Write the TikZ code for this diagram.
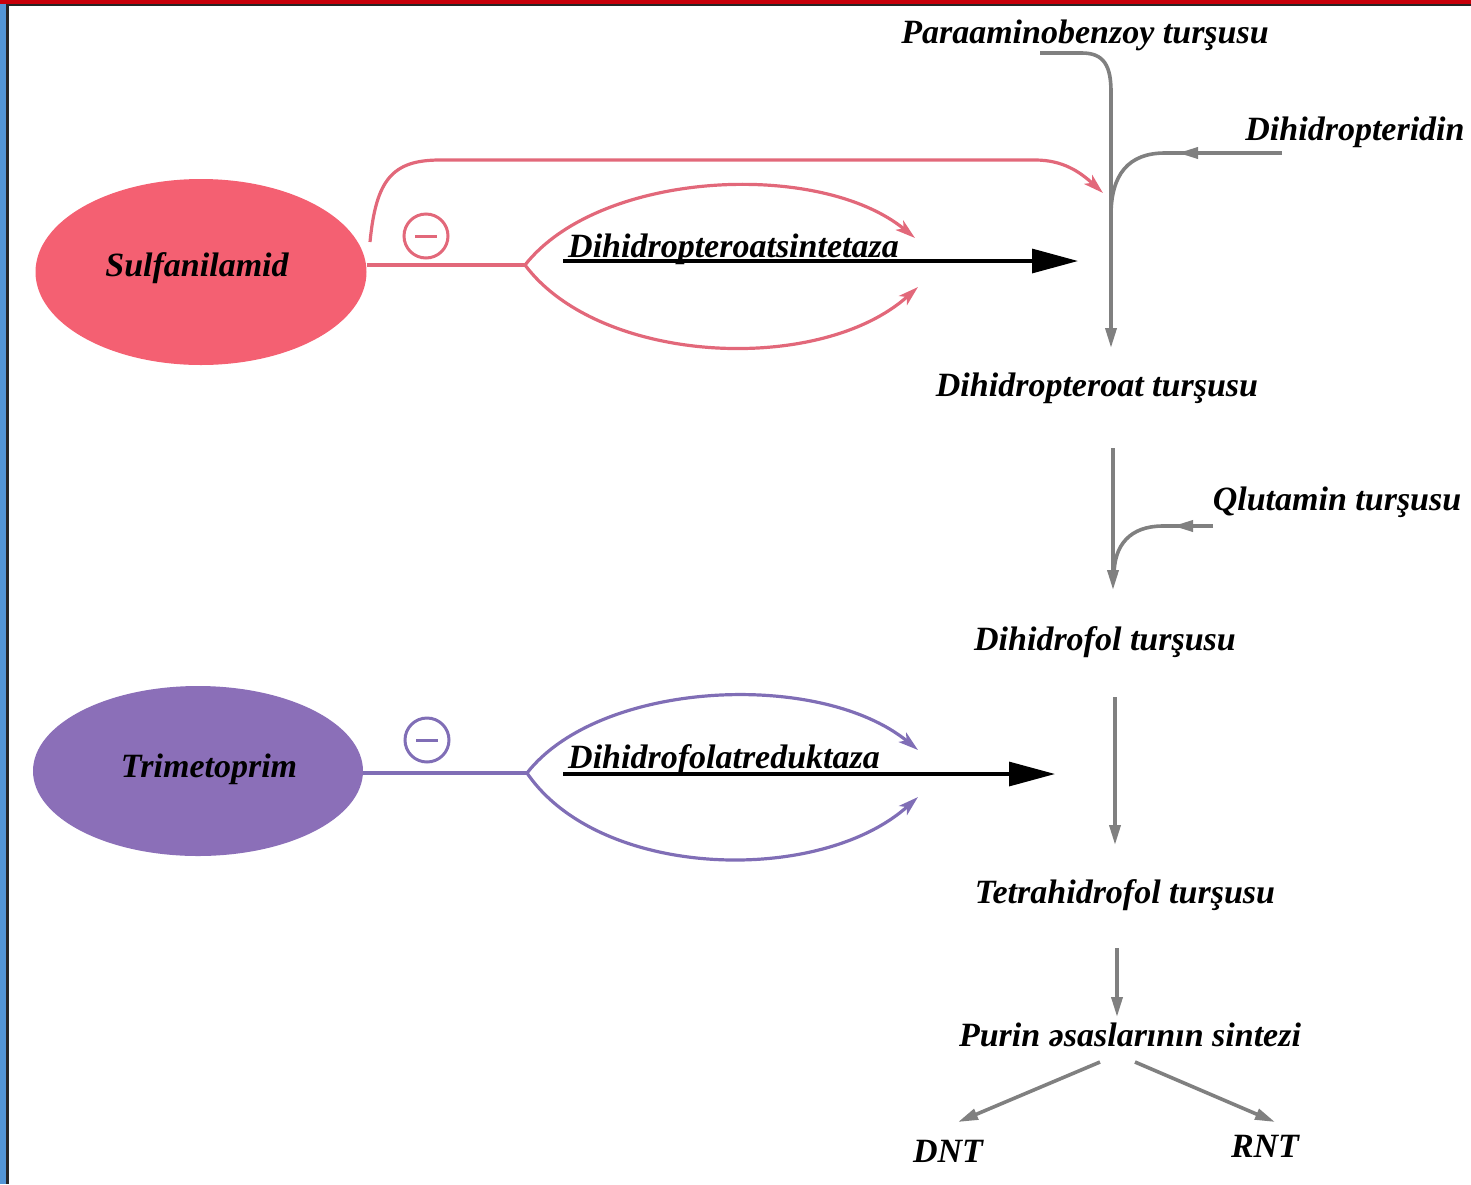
\documentclass[tikz,border=0pt]{standalone}
\usepackage{fontspec}
\setmainfont{Liberation Serif}[BoldItalicFont={Liberation Serif Bold Italic}]
\usetikzlibrary{arrows.meta,shapes.geometric}
\definecolor{sred}{RGB}{244,96,114}
\definecolor{sredline}{RGB}{226,104,122}
\definecolor{tpur}{RGB}{139,111,184}
\definecolor{tpurline}{RGB}{128,110,182}
\definecolor{gline}{RGB}{128,128,128}
\definecolor{bblue}{RGB}{84,150,214}
\definecolor{bred}{RGB}{200,0,10}
\tikzset{
  lbl/.style={font=\fontsize{34}{40}\selectfont\bfseries\itshape, inner sep=0pt, anchor=base},
  drug/.style={ellipse, inner sep=0pt},
  redln/.style={draw=sredline, line width=3.2pt},
  purln/.style={draw=tpurline, line width=3.2pt},
  redtip/.style={-{Stealth[length=20pt,width=12pt,inset=5pt]}},
  graytip/.style={-{Triangle[length=20pt,width=11pt]}},
  grayln/.style={draw=gline, line width=3.6pt},
  blackarr/.style={draw=black, line width=3.2pt, -{Triangle[length=46pt,width=24pt]}},
  minus/.style={circle, minimum size=44pt, inner sep=0pt, line width=3pt},
}
\begin{document}
\begin{tikzpicture}[x=1pt,y=-1pt]
\useasboundingbox (0,0) rectangle (1471,1184);
% frame
\fill[bblue] (0,0) rectangle (6,1184);
\fill[black!85] (6,4) rectangle (8.5,1184);
\fill[bred] (0,0) rectangle (1471,3.5);
\fill[black!85] (6,3.5) rectangle (1471,5.5);

% drugs
\node[drug, fill=sred, minimum width=331pt, minimum height=186pt] (sulf) at (201,272) {};
\node[lbl] at (197,276) {Sulfanilamid};
\node[drug, fill=tpur, minimum width=330pt, minimum height=170pt] (trim) at (198,771) {};
\node[lbl] at (209,777) {Trimetoprim};

% sulfanilamid inhibition
\coordinate (sfork) at (525,265);
\coordinate (stopA) at (915,238);
\coordinate (sbotA) at (918,287);
\coordinate (souter) at (370,242);
\coordinate (souterEnd) at (1103,193);
\draw[redln] (sulf.east |- sfork) -- (sfork);
\draw[redln, redtip] (sfork) .. controls (600,170) and (820,160) .. (stopA);
\draw[redln, redtip] (sfork) .. controls (600,365) and (820,375) .. (sbotA);
\draw[redln, redtip] (souter) .. controls (376,180) and (392,160) .. (440,160) -- (1035,160) .. controls (1063,160) and (1080,172) .. (souterEnd);
\node[minus, draw=sredline] (sminus) at (426,236) {};
\draw[sredline, line width=3pt] ([xshift=-11pt]sminus.center) -- ([xshift=11pt]sminus.center);

% trimetoprim inhibition
\coordinate (tfork) at (527,773);
\coordinate (ttopA) at (918,750);
\coordinate (tbotA) at (918,797);
\draw[purln] (trim.east |- tfork) -- (tfork);
\draw[purln, redtip] (tfork) .. controls (600,680) and (820,670) .. (ttopA);
\draw[purln, redtip] (tfork) .. controls (600,880) and (820,885) .. (tbotA);
\node[minus, draw=tpurline] (tminus) at (427,740) {};
\draw[tpurline, line width=3pt] ([xshift=-11pt]tminus.center) -- ([xshift=11pt]tminus.center);

% enzyme arrows
\node[lbl, anchor=base west] (enz1) at (568,257) {Dihidropteroatsintetaza};
\coordinate (e1s) at (563,261);
\coordinate (e1e) at (1078,261);
\draw[blackarr] (e1s) -- (e1e);
\node[lbl, anchor=base west] (enz2) at (568,768) {Dihidrofolatreduktaza};
\coordinate (e2s) at (563,774);
\coordinate (e2e) at (1055,774);
\draw[blackarr] (e2s) -- (e2e);

% metabolites
\node[lbl] (paba) at (1085,43) {Paraaminobenzoy turşusu};
\node[lbl] (dhpt) at (1355,140) {Dihidropteridin};
\node[lbl] (dhpa) at (1097,396) {Dihidropteroat turşusu};
\node[lbl] (glu) at (1337,510) {Qlutamin turşusu};
\node[lbl] (dhf) at (1105,650) {Dihidrofol turşusu};
\node[lbl] (thf) at (1125,903) {Tetrahidrofol turşusu};
\node[lbl] (pur) at (1130,1046) {Purin əsaslarının sintezi};
\node[lbl] (dnt) at (948,1162) {DNT};
\node[lbl] (rnt) at (1265,1157) {RNT};

% gray pathway
\coordinate (p1) at (1040,53);
\coordinate (p2) at (1111,348);
\draw[grayln, graytip] (p1) -- (1082,53) .. controls (1104,53) and (1111,66) .. (1111,92) -- (p2);
\coordinate (d1) at (1282,153);
\coordinate (d2) at (1178,153);
\draw[grayln, graytip] (d1) -- (d2);
\draw[grayln] (1190,153) -- (1165,153) .. controls (1128,153) and (1111,175) .. (1111,215);

\coordinate (a1) at (1113,448);
\coordinate (a2) at (1113,590);
\draw[grayln, graytip] (a1) -- (a2);
\coordinate (q1) at (1213,526);
\coordinate (q2) at (1173,526);
\draw[grayln, graytip] (q1) -- (q2);
\draw[grayln] (1185,526) -- (1163,526) .. controls (1130,526) and (1114,545) .. (1114,575);

\coordinate (b1) at (1115,697);
\coordinate (b2) at (1115,845);
\draw[grayln, graytip] (b1) -- (b2);
\coordinate (c1) at (1117,948);
\coordinate (c2) at (1117,1017);
\draw[grayln, graytip] (c1) -- (c2);
\coordinate (f1) at (1100,1062);
\coordinate (f2) at (958,1122);
\draw[grayln, graytip] (f1) -- (f2);
\coordinate (g1) at (1135,1062);
\coordinate (g2) at (1275,1122);
\draw[grayln, graytip] (g1) -- (g2);
\end{tikzpicture}
\end{document}
